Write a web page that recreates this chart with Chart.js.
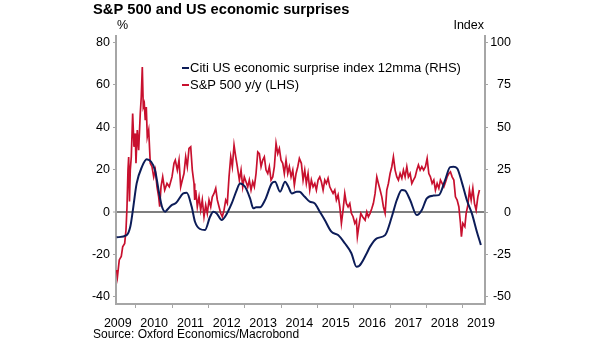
<!DOCTYPE html>
<html><head><meta charset="utf-8">
<script src="https://cdn.jsdelivr.net/npm/chart.js@4/dist/chart.umd.min.js"></script>
<style>html,body{margin:0;padding:0;background:#fff;overflow:hidden}</style>
</head><body>
<canvas id="c" width="605" height="341"></canvas>
<script>
// Citi US economic surprise index 12mma (RHS) — decimal year, index value
const citiDates = [2009.468,2009.744,2009.843,2009.909,2010.019,2010.165,2010.295,2010.523,2010.630,2010.716,2010.807,2010.854,2010.983,2011.100,2011.303,2011.397,2011.534,2011.625,2011.763,2011.901,2012.039,2012.129,2012.223,2012.361,2012.452,2012.636,2012.774,2012.865,2013.003,2013.141,2013.231,2013.306,2013.416,2013.554,2013.738,2013.829,2013.967,2014.105,2014.196,2014.289,2014.427,2014.499,2014.647,2014.785,2014.923,2015.061,2015.198,2015.380,2015.565,2015.749,2015.931,2016.069,2016.143,2016.355,2016.446,2016.631,2016.860,2017.044,2017.182,2017.320,2017.410,2017.548,2017.733,2017.871,2018.008,2018.190,2018.339,2018.512,2018.650,2018.741,2018.843,2018.981,2019.118,2019.248,2019.386,2019.496];
const citiValues = [-14.9,-13.6,-8.7,0.2,16.9,26.7,31.1,24.7,12.0,3.1,0.2,1.2,4.1,5.3,11.0,11.4,3.1,-5.7,-10.0,-10.6,-2.8,0.2,-0.8,-4.7,-2.8,5.1,13.0,16.9,14.9,8.1,2.2,2.8,2.8,7.1,16.9,17.9,12.0,17.9,14.9,11.0,12.0,12.0,9.0,6.1,5.1,0.2,-4.7,-11.6,-13.6,-18.4,-24.3,-32.2,-31.8,-24.3,-20.4,-15.5,-13.6,-2.8,7.1,13.0,12.6,7.1,-1.8,1.2,8.1,9.7,10.0,18.9,26.5,26.7,25.8,16.9,6.5,-0.8,-11.6,-19.4];

// S&P 500 y/y (LHS) — decimal year, percent
const spDates = [2009.468,2009.490,2009.540,2009.595,2009.634,2009.689,2009.725,2009.752,2009.780,2009.799,2009.821,2009.843,2009.871,2009.909,2009.945,2009.981,2010.000,2010.036,2010.074,2010.118,2010.146,2010.174,2010.201,2010.229,2010.256,2010.284,2010.311,2010.350,2010.394,2010.441,2010.488,2010.532,2010.579,2010.625,2010.653,2010.689,2010.736,2010.791,2010.854,2010.917,2010.992,2011.047,2011.083,2011.138,2011.185,2011.231,2011.275,2011.322,2011.369,2011.413,2011.460,2011.507,2011.551,2011.598,2011.617,2011.645,2011.689,2011.736,2011.782,2011.826,2011.873,2011.920,2011.964,2012.011,2012.058,2012.102,2012.149,2012.196,2012.240,2012.287,2012.333,2012.377,2012.424,2012.471,2012.515,2012.562,2012.609,2012.653,2012.700,2012.747,2012.791,2012.846,2012.893,2012.939,2012.983,2013.030,2013.077,2013.121,2013.168,2013.215,2013.259,2013.306,2013.353,2013.397,2013.444,2013.490,2013.534,2013.581,2013.628,2013.672,2013.719,2013.766,2013.810,2013.857,2013.904,2013.948,2013.994,2014.041,2014.085,2014.132,2014.179,2014.223,2014.270,2014.317,2014.361,2014.408,2014.455,2014.499,2014.554,2014.601,2014.647,2014.691,2014.738,2014.785,2014.829,2014.876,2014.923,2014.967,2015.014,2015.061,2015.105,2015.152,2015.198,2015.242,2015.289,2015.336,2015.380,2015.427,2015.474,2015.518,2015.565,2015.612,2015.656,2015.702,2015.749,2015.793,2015.840,2015.887,2015.931,2015.978,2016.025,2016.069,2016.096,2016.135,2016.190,2016.240,2016.309,2016.355,2016.399,2016.446,2016.493,2016.537,2016.584,2016.631,2016.675,2016.722,2016.769,2016.813,2016.860,2016.906,2016.950,2016.997,2017.044,2017.088,2017.135,2017.182,2017.226,2017.273,2017.320,2017.364,2017.410,2017.457,2017.501,2017.548,2017.595,2017.639,2017.686,2017.733,2017.777,2017.824,2017.871,2017.920,2017.970,2018.017,2018.063,2018.107,2018.154,2018.201,2018.245,2018.292,2018.339,2018.383,2018.430,2018.477,2018.526,2018.567,2018.614,2018.658,2018.705,2018.752,2018.796,2018.843,2018.890,2018.934,2018.961,2019.000,2019.055,2019.091,2019.138,2019.182,2019.229,2019.275,2019.320,2019.366,2019.413,2019.457];
const spValues = [-27.3,-30.5,-22.6,-21,-16.4,-14.8,-8.5,2,19.8,26,5,19.8,26,46.5,30.8,37.1,23,38.7,29.2,46.5,54.4,68.5,49.6,51.2,43.4,49.6,35.5,38.7,23,21.4,16.6,19.8,11.9,7.2,2.5,11.9,16.6,10.4,13.5,11.9,16.6,23,24.5,19.8,24.5,11.9,15,18.2,26,21.4,30,30.8,19.8,13.5,5.7,10.4,2.5,7.2,0.9,5.7,-2.2,3.3,-0.6,5.7,2.5,7.2,8.8,11.2,5.7,2.5,-0.6,-2.2,0.9,5.7,4.1,16.6,26,21.4,31.6,26,21.4,15.1,19.8,11.9,16.6,14.3,11.9,15.1,10.4,14.3,11.9,18.2,28.4,27.6,21.4,24.5,26,19.8,18.2,21.4,15.1,16.6,21.4,32.4,27.6,30,24.5,23,18.2,24.5,18.2,21.4,16.6,19.8,12.7,18.2,21.4,25.3,23,15.1,19.8,13.5,18.2,10.4,15.1,11.9,13.5,10.4,15.1,16.6,14.3,10.4,15.1,13.5,15.9,11.9,10.4,8.8,10.4,5.7,8.1,2.5,-5.3,0.9,8.8,4.1,2.5,4.1,-0.6,-2.2,-5.3,-3.8,-11.6,-6.9,-0.6,-2.2,-3.8,0.1,-2.2,-0.6,1.7,4.1,8.8,16.6,13.5,10.4,7.2,2.5,-0.6,10.4,13.5,18.2,21.4,26,19.8,16.6,15.1,18.2,15.9,19.8,16.6,21.4,16.6,18.2,13.5,15.1,16.6,19.8,22.2,19.8,21.4,19.8,21.4,25.3,18.2,16.6,13.5,15.1,10.4,13.5,11.2,15.1,13.5,11.9,14.3,16.6,18.2,19,16.6,15.1,7.2,5.7,2.5,-5.3,-11.6,-5.3,-6.9,-0.6,3.3,10.4,5.7,11.2,4.1,0.9,7.2,10.4];

const leftTicks = [-40, -20, 0, 20, 40, 60, 80];
const rightTicks = [-50, -25, 0, 25, 50, 75, 100];
const yearLabels = [2009, 2010, 2011, 2012, 2013, 2014, 2015, 2016, 2017, 2018, 2019];
const yearBoundaries = [2010, 2011, 2012, 2013, 2014, 2015, 2016, 2017, 2018, 2019];

const FONT = '"Liberation Sans", Arial, sans-serif';
const AXIS = '#a6a6a6';

const citiData = citiDates.map((d, i) => ({x: d, y: citiValues[i]}));
const spData = spDates.map((d, i) => ({x: d, y: spValues[i]}));

const textPlugin = {
  id: 'texts',
  afterDraw(chart) {
    const ctx = chart.ctx;
    ctx.save();
    ctx.fillStyle = '#000';
    ctx.textBaseline = 'middle';
    ctx.font = 'bold 14.7px ' + FONT;
    ctx.textAlign = 'left';
    ctx.fillText('S&P 500 and US economic surprises', 93, 10);
    ctx.font = '12.5px ' + FONT;
    ctx.fillText('%', 117, 26);
    ctx.textAlign = 'right';
    ctx.fillText('Index', 484, 26);
    ctx.textAlign = 'left';
    ctx.font = '12px ' + FONT;
    ctx.fillText('Source: Oxford Economics/Macrobond', 93, 335);
    // legend
    ctx.font = '13px ' + FONT;
    chart.data.datasets.forEach((ds, i) => {
      const y = 68 + i * 17;
      ctx.strokeStyle = ds.borderColor;
      ctx.lineWidth = 2;
      ctx.beginPath();
      ctx.moveTo(182, y);
      ctx.lineTo(189, y);
      ctx.stroke();
      ctx.fillStyle = '#000';
      ctx.fillText(ds.label, 190, y);
    });
    ctx.restore();
  }
};

new Chart(document.getElementById('c'), {
  type: 'line',
  data: {
    datasets: [
      {label: 'Citi US economic surprise index 12mma (RHS)', data: citiData, yAxisID: 'y2',
       borderColor: '#0c1c58', borderWidth: 2, pointRadius: 0, cubicInterpolationMode: 'monotone', fill: false},
      {label: 'S&P 500 y/y (LHS)', data: spData, yAxisID: 'y',
       borderColor: '#c8102e', borderWidth: 1.7, pointRadius: 0, tension: 0, fill: false}
    ]
  },
  options: {
    responsive: false,
    animation: false,
    events: [],
    layout: {padding: {top: 36, left: 0, right: 94, bottom: 0}},
    plugins: {legend: {display: false}, tooltip: {enabled: false}, title: {display: false}},
    scales: {
      x: {
        type: 'linear', min: 2009.45, max: 2019.61,
        afterBuildTicks: s => {
          s.ticks = yearBoundaries.map(v => ({value: v})).concat(yearLabels.map(v => ({value: v + 0.5})))
            .sort((a, b) => a.value - b.value);
        },
        grid: {drawOnChartArea: false, drawTicks: true, tickLength: 4, tickWidth: 1,
          tickColor: c => (c.tick && Number.isInteger(c.tick.value)) ? AXIS : 'rgba(0,0,0,0)'},
        border: {color: AXIS, width: 2},
        ticks: {autoSkip: false, maxRotation: 0, minRotation: 0, padding: 8, color: '#000',
          font: {family: FONT, size: 12.5},
          callback: v => Number.isInteger(v) ? '' : String(Math.floor(v))},
        afterFit: s => { s.height = 37; }
      },
      y: {
        position: 'left', min: -43.4, max: 83.1,
        afterBuildTicks: s => { s.ticks = leftTicks.map(v => ({value: v})); },
        grid: {drawOnChartArea: true, drawTicks: true, tickLength: 3, tickWidth: 1, tickColor: AXIS,
          color: c => (c.tick && c.tick.value === 0) ? '#7f7f7f' : 'rgba(0,0,0,0)',
          lineWidth: c => (c.tick && c.tick.value === 0) ? 2 : 1},
        border: {color: AXIS, width: 2},
        ticks: {padding: 3, color: '#000', font: {family: FONT, size: 12.5}},
        afterFit: s => { s.width = 116; }
      },
      y2: {
        position: 'right', min: -54.25, max: 103.875,
        afterBuildTicks: s => { s.ticks = rightTicks.map(v => ({value: v})); },
        grid: {drawOnChartArea: false, drawTicks: true, tickLength: 3, tickWidth: 1, tickColor: AXIS},
        border: {color: AXIS, width: 2},
        ticks: {padding: 3, crossAlign: 'far', color: '#000', font: {family: FONT, size: 12.5}},
        afterFit: s => { s.width = 26; }
      }
    }
  },
  plugins: [textPlugin]
});
</script>
</body></html>
